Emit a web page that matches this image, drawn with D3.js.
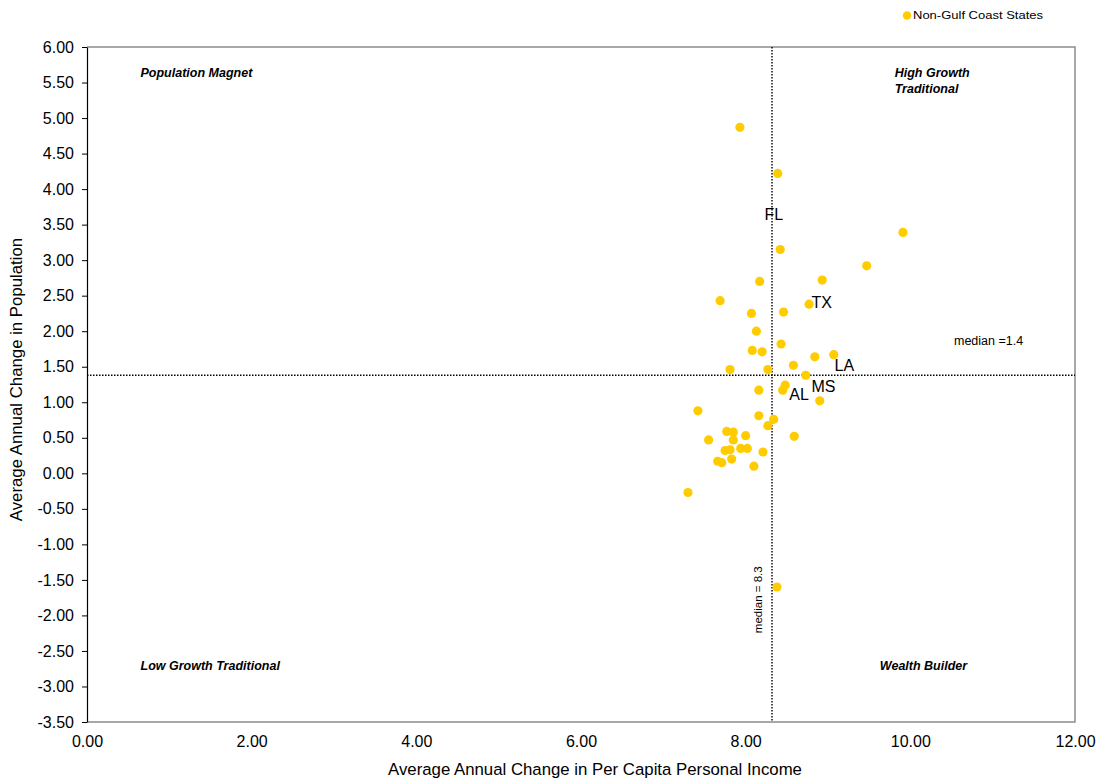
<!DOCTYPE html>
<html>
<head>
<meta charset="utf-8">
<script src="https://cdn.jsdelivr.net/npm/d3@7"></script>
<style>
  body { margin: 0; background: #fff; }
  svg { display: block; font-family: Arial, "Liberation Sans", sans-serif; }
</style>
</head>
<body>
<svg id="chart" width="1099" height="784"></svg>
<script>
// Non-Gulf Coast States: [income change, population change]
const incomeChange = [7.93, 8.39, 8.42, 9.91, 9.47, 8.93, 8.17, 7.69, 8.77, 8.46, 8.07, 8.13, 8.43, 8.08, 8.20, 8.84, 9.07, 8.58, 7.81, 8.27, 8.73, 8.48, 8.16, 8.45, 8.90, 7.42, 8.16, 8.34, 8.27, 7.77, 7.85, 8.00, 7.55, 7.85, 8.59, 7.94, 8.02, 7.75, 7.81, 8.21, 7.66, 7.71, 7.83, 8.10, 7.30, 8.38];
const populationChange = [4.87, 4.22, 3.15, 3.39, 2.92, 2.72, 2.70, 2.43, 2.38, 2.27, 2.25, 2.00, 1.82, 1.73, 1.71, 1.64, 1.67, 1.52, 1.46, 1.46, 1.38, 1.24, 1.17, 1.17, 1.02, 0.88, 0.81, 0.76, 0.67, 0.59, 0.58, 0.53, 0.47, 0.47, 0.52, 0.35, 0.35, 0.32, 0.33, 0.30, 0.17, 0.15, 0.20, 0.10, -0.27, -1.60];

// Gulf Coast state labels (label anchor positions in data units)
const gulfLabels = ["FL", "TX", "LA", "MS", "AL"];
const gulfLabelX = [8.23, 8.80, 9.08, 8.80, 8.53];
const gulfLabelY = [3.63, 2.38, 1.50, 1.20, 1.09];

const xTicks = [0, 2, 4, 6, 8, 10, 12];
const yTicks = [6, 5.5, 5, 4.5, 4, 3.5, 3, 2.5, 2, 1.5, 1, 0.5, 0, -0.5, -1, -1.5, -2, -2.5, -3, -3.5];

const medianIncome = 8.32;
const medianPopulation = 1.38;

const quadrantNames = ["Population Magnet", "High Growth|Traditional", "Low Growth Traditional", "Wealth Builder"];
const quadrantX = [0.65, 9.81, 0.65, 9.63];
const quadrantY = [5.62, 5.62, -2.73, -2.73];

const legendLabel = "Non-Gulf Coast States";
const xTitle = "Average Annual Change in Per Capita Personal Income";
const yTitle = "Average Annual Change in Population";

const svg = d3.select("#chart");
const L = 87, R = 1075, T = 47, B = 722;

const x = d3.scaleLinear().domain([0, 12]).range([L, R]);
const y = d3.scaleLinear().domain([-3.5, 6]).range([B, T]);
const fmt = v => d3.format(".2f")(v).replace("\u2212", "-");

// plot frame (grey top/right/bottom)
svg.append("path")
  .attr("d", `M${L},${T}H${R}V${B}H${L}`)
  .attr("fill", "none").attr("stroke", "#8c8c8c").attr("stroke-width", 1.5);

// y axis
const yAxis = svg.append("g").attr("transform", `translate(${L},0)`)
  .call(d3.axisLeft(y).tickValues(yTicks).tickFormat(fmt).tickSize(5).tickSizeOuter(0));
yAxis.select(".domain").attr("stroke", "#000").attr("stroke-width", 1.2);
yAxis.selectAll(".tick line").attr("stroke", "#000");
yAxis.selectAll("text").attr("font-size", 16).attr("font-family", "Arial, 'Liberation Sans', sans-serif").attr("fill", "#000").attr("x", -13);

// x axis (labels only)
const xAxis = svg.append("g").attr("transform", `translate(0,${B})`)
  .call(d3.axisBottom(x).tickValues(xTicks).tickFormat(fmt).tickSize(0).tickSizeOuter(0));
xAxis.select(".domain").remove();
xAxis.selectAll("text").attr("font-size", 16).attr("font-family", "Arial, 'Liberation Sans', sans-serif").attr("fill", "#000").attr("y", 10).attr("dy", "0.95em");

// median lines
svg.append("line")
  .attr("x1", x(medianIncome)).attr("x2", x(medianIncome)).attr("y1", T).attr("y2", B)
  .attr("stroke", "#000").attr("stroke-width", 1.4).attr("stroke-dasharray", "1.5,1.5");
svg.append("line")
  .attr("x1", L).attr("x2", R).attr("y1", y(medianPopulation)).attr("y2", y(medianPopulation))
  .attr("stroke", "#000").attr("stroke-width", 1.4).attr("stroke-dasharray", "1.5,1.5");

svg.append("text")
  .attr("x", x(10.53)).attr("y", y(1.85)).attr("font-size", 12.5).attr("dominant-baseline", "middle")
  .text("median =1.4");
svg.append("text")
  .attr("transform", `translate(${x(medianIncome) - 13},${y(-1.78)}) rotate(-90)`)
  .attr("text-anchor", "middle").attr("dominant-baseline", "middle").attr("font-size", 11.5)
  .text("median = 8.3");

// quadrant labels
quadrantNames.forEach((name, i) => {
  const t = svg.append("text")
    .attr("x", x(quadrantX[i])).attr("y", y(quadrantY[i]))
    .attr("font-size", 12.5).attr("font-weight", "bold").attr("font-style", "italic")
    .attr("dominant-baseline", "middle");
  name.split("|").forEach((line, j) => {
    t.append("tspan").attr("x", x(quadrantX[i])).attr("dy", j === 0 ? 0 : 16).text(line);
  });
});

// points
svg.append("g").selectAll("circle")
  .data(incomeChange.map((v, i) => [v, populationChange[i]]))
  .join("circle")
  .attr("cx", d => x(d[0])).attr("cy", d => y(d[1])).attr("r", 4.6)
  .attr("fill", "#ffcc00");

// gulf state labels
svg.append("g").selectAll("text")
  .data(gulfLabels.map((s, i) => [s, gulfLabelX[i], gulfLabelY[i]]))
  .join("text")
  .attr("x", d => x(d[1])).attr("y", d => y(d[2]))
  .attr("dominant-baseline", "middle").attr("font-size", 16).attr("fill", "#000")
  .text(d => d[0]);

// legend
svg.append("circle").attr("cx", 907).attr("cy", 15.5).attr("r", 4.2).attr("fill", "#ffcc00");
svg.append("text").attr("x", 913).attr("y", 16).attr("dominant-baseline", "middle")
  .attr("font-size", 11).attr("textLength", 130).attr("lengthAdjust", "spacingAndGlyphs")
  .text(legendLabel);

// axis titles
svg.append("text").attr("x", 595).attr("y", 771).attr("text-anchor", "middle")
  .attr("dominant-baseline", "middle").attr("font-size", 16.8).text(xTitle);
svg.append("text").attr("transform", `translate(18,${(T + B) / 2 - 5}) rotate(-90)`)
  .attr("text-anchor", "middle").attr("dominant-baseline", "middle").attr("font-size", 16.8).text(yTitle);
</script>
</body>
</html>
